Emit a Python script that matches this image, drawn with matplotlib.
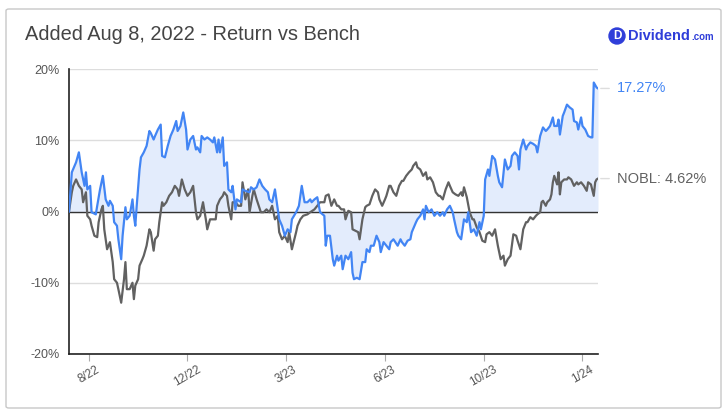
import matplotlib
matplotlib.use("Agg")
import matplotlib.pyplot as plt
from matplotlib.patches import FancyBboxPatch, Circle

plt.rcParams['font.family'] = ['Liberation Sans', 'DejaVu Sans']

# ---- data (trading-day index since Aug 8, 2022; cumulative return in %) ----
blue_days = [0, 2, 5, 7, 9, 11, 12, 13, 15, 16, 19, 20, 22, 24, 26, 28, 29, 31, 32, 34,
             35, 37, 38, 40, 41, 43, 45, 46, 47, 48, 50, 51, 53, 55, 57, 58, 60, 61, 63, 65,
             66, 68, 70, 72, 74, 76, 77, 79, 81, 83, 84, 86, 88, 90, 91, 93, 94, 96, 98, 100,
             102, 103, 105, 106, 107, 109, 110, 112, 113, 115, 116, 118, 119, 122, 123, 125, 128, 129, 131, 133,
             135, 137, 139, 141, 142, 144, 146, 147, 149, 151, 153, 155, 157, 158, 161, 163, 165, 167, 169, 171,
             172, 174, 176, 178,
             181, 182, 183, 185, 187, 188, 190, 191, 193, 194,
             196, 198, 200, 201, 202, 204, 206, 208, 210, 211,
             213, 214, 216, 218, 220, 221, 223, 225, 227, 228,
             230, 233, 235, 236, 238, 240, 242, 243, 246, 247,
             249, 251, 252, 253, 255, 257, 259, 261, 263, 265,
             266, 268, 270, 272, 273, 275, 276, 278, 280, 282,
             283, 285, 287, 289, 291, 292, 294, 295, 297, 298,
             300, 302, 304, 305, 307, 309, 311, 313, 314, 316,
             318, 319, 320, 322, 324, 325, 327, 329, 331, 332,
             334, 336, 338, 339, 341, 343, 344, 346, 347, 348,
             350, 351, 353, 355, 357, 358, 360, 361, 363, 364,
             366, 368, 370, 371, 372, 374, 375]
blue_ret = [0.0, 5.5, 6.9, 8.3, 5.5, 3.6, 5.5, 3.1, 3.6, -0.1,
            -0.4, 0.8, 3.1, 5.0, 1.7, 0.8, 1.5, 0.8, -1.5, -2.0,
            -3.9, -6.7, -3.4, 0.6, -1.1, -0.6, 1.7, -0.6, -2.0, 0.8,
            5.9, 7.6, 8.3, 9.2, 11.3, 11.0, 10.1, 10.6, 11.5, 12.2,
            7.8, 7.6, 9.2, 10.6, 11.5, 12.7, 11.3, 12.0, 13.9, 11.5,
            8.7, 10.1, 10.6, 8.7, 9.0, 8.3, 10.6, 10.1, 10.4, 10.1,
            9.7, 10.4, 8.3, 10.1, 8.3, 10.4, 6.4, 6.9, 3.1, 2.7,
            3.6, 0.3, 1.7, 1.3, 3.1, 2.9, 2.7, 3.4, 3.1, 3.4,
            4.5, 3.6, 3.1, 2.7, 1.7, 1.3, 3.1, 1.7, -1.1, -2.0,
            -3.4, -2.5, -2.9, -1.1, -0.1, 0.8, 3.6, 1.3, 1.3, 1.7,
            1.3, 1.7, 2.0, -0.1,
            -0.6, -4.8, -3.4, -3.4, -6.7, -7.6, -6.2, -6.9, -6.2, -8.1,
            -6.2, -6.7, -5.7, -8.6, -9.5, -9.3, -9.5, -7.1, -7.1, -5.3,
            -5.7, -4.8, -4.8, -3.4, -4.3, -5.7, -4.3, -4.8, -5.3, -4.3,
            -3.9, -4.8, -3.9, -4.3, -4.8, -4.1, -3.9, -2.9, -1.5, -1.1,
            -0.6, 0.3, -1.1, 0.8, -0.1, 0.3, -0.6, -0.1, -0.6, -0.1,
            -0.6, 0.3, 0.8, -0.1, -1.1, -2.9, -3.4, -3.9, -1.1, -1.5,
            -0.1, -2.9, -2.5, -3.4, -1.5, -2.5, -0.6, 4.5, 5.9, 5.0,
            7.8, 7.3, 5.0, 4.1, 3.4, 7.3, 5.9, 6.4, 7.8, 8.3,
            7.8, 5.9, 8.7, 10.1, 8.7, 9.2, 9.7, 9.5, 9.2, 8.3,
            10.6, 11.8, 11.3, 11.5, 12.0, 13.2, 12.0, 12.0, 12.9, 10.8,
            13.4, 13.9, 15.0, 14.6, 14.3, 12.7, 12.5, 11.5, 13.2, 12.0,
            11.5, 10.6, 10.4, 10.4, 18.1, 17.4, 17.27]

nobl_days = [0, 2, 3, 5, 7, 9, 10, 12, 13, 15, 16, 18, 20, 21, 23, 24, 25, 27, 29, 31,
             32, 34, 35, 37, 39, 40, 41, 43, 45, 46, 47, 49, 50, 52, 53, 55, 57, 58, 60, 61,
             63, 64, 66, 67, 69, 71, 73, 75, 77, 78, 80, 82, 84, 86, 88, 90, 91, 93, 95, 97,
             98, 100, 102, 104, 105, 107, 109, 110, 112, 113, 115, 116, 118, 120, 122, 123, 125, 127, 128, 130,
             131, 133, 136, 138, 140, 142, 144, 146, 148, 149, 151, 153, 155, 156, 158, 161, 162, 164, 166, 169,
             171, 174, 176, 178,
             181, 182, 184, 186, 188, 190, 191, 193, 195, 196,
             198, 200, 201, 203, 205, 206, 208, 210, 211, 213,
             215, 217, 219, 220, 222, 224, 225, 227, 228, 230,
             232, 234, 236, 237, 239, 241, 243, 244, 246, 247,
             249, 251, 253, 254, 256, 258, 260, 262, 263, 265,
             267, 269, 270, 272, 274, 276, 278, 279, 280, 282,
             284, 286, 287, 289, 291, 293, 295, 296, 298, 300,
             302, 304, 306, 308, 309, 311, 313, 315, 317, 318,
             320, 321, 322, 324, 325, 327, 329, 331, 332, 334,
             335, 336, 338, 339, 341, 342, 343, 344, 346, 347,
             348, 349, 351, 353, 354, 356, 358, 360, 361, 363,
             365, 367, 368, 370, 372, 373, 374, 375]
nobl_ret = [0.0, 2.7, 3.6, 4.5, 3.6, 3.1, 1.3, 2.7, -0.6, -1.1,
            -2.0, -3.4, -3.6, -1.5, 0.3, 0.8, -2.5, -5.3, -4.3, -7.1,
            -9.5, -10.0, -10.9, -12.8, -9.5, -7.1, -10.9, -10.9, -10.0, -12.3,
            -10.4, -9.5, -7.6, -6.7, -6.2, -4.8, -2.5, -2.9, -5.5, -3.9,
            -3.4, -1.5, 1.3, 0.8, 1.3, 2.2, 2.7, 3.6, 3.1, 2.2,
            4.5, 3.1, 2.2, 2.7, 3.6, -0.1, -1.1, -0.6, 1.3, -1.1,
            -2.5, -1.1, -1.1, -1.1, 0.8, 1.7, 2.2, 2.7, 2.2, 0.8,
            -1.1, 1.3, 1.3, 0.8, 0.8, 4.1, 1.7, 3.1, -0.1, 2.2,
            3.1, 1.7, -0.1, -0.1, 0.3, -0.1, 0.8, -1.1, -0.6, -2.9,
            -3.9, -3.4, -4.3, -2.9, -5.3, -2.9, -2.0, -1.1, -0.6, -0.4,
            -0.1, 0.3, 0.8, 1.3,
            1.3, 2.2, 2.4, 0.8, 1.7, 0.8, 0.8, 0.3, 0.3, -1.1,
            0.1, -0.1, -2.5, -2.7, -2.9, -3.9, -1.1, 0.6, 0.8, 1.0,
            2.2, 3.1, 2.7, 1.7, 0.8, 1.7, 2.2, 3.6, 3.6, 2.7,
            2.2, 3.6, 4.3, 4.3, 5.0, 5.5, 5.9, 6.4, 6.9, 6.2,
            5.9, 5.0, 5.5, 4.5, 4.8, 4.1, 2.7, 2.2, 2.2, 1.7,
            3.1, 4.1, 3.6, 2.7, 2.4, 2.2, 2.7, 2.2, 3.4, 2.0,
            -0.1, -1.1, -1.1, -2.2, -2.9, -4.1, -4.3, -3.2, -2.9, -3.4,
            -2.5, -4.8, -6.7, -6.2, -7.6, -6.7, -6.2, -3.2, -3.4, -4.1,
            -5.3, -3.9, -2.5, -1.5, -1.5, -0.8, -1.1, -0.6, -0.4, -0.1,
            1.3, 1.5, 0.8, 1.3, 1.7, 2.4, 4.1, 5.0, 3.8, 5.5,
            2.4, 4.1, 4.5, 4.5, 4.8, 4.5, 3.6, 4.1, 3.8, 4.1,
            3.6, 2.9, 4.1, 3.8, 2.2, 4.1, 4.5, 4.62]

tick_days = [14, 84, 154, 224, 294, 364]
tick_labels = ['8/22', '12/22', '3/23', '6/23', '10/23', '1/24']
y_ticks = [-20, -10, 0, 10, 20]

title = 'Added Aug 8, 2022 - Return vs Bench'
bench_name = 'NOBL'

# ---- styling ----
BLUE = '#4285f4'
GRAY = '#616161'
FILL = '#e3ecfc'

W, H = 727, 417
fig = plt.figure(figsize=(W / 100, H / 100), dpi=100)
fig.patch.set_facecolor('white')

# outer frame
frame = FancyBboxPatch((6 / W, 9 / H), 715 / W, 399 / H,
                       boxstyle='round,pad=0,rounding_size=0.004',
                       transform=fig.transFigure, fill=False,
                       edgecolor='#c8c8c8', linewidth=1.0)
fig.patches.append(frame)

ax_l, ax_r, ax_t, ax_b = 69, 598, 69, 354
ax = fig.add_axes([ax_l / W, 1 - ax_b / H, (ax_r - ax_l) / W, (ax_b - ax_t) / H])

ax.fill_between(blue_days, blue_ret, 0, color=FILL, linewidth=0, zorder=1)
ax.axhline(0, color='#333333', linewidth=1.0, zorder=2)
ax.plot(nobl_days, nobl_ret, color=GRAY, linewidth=1.6, zorder=3, solid_joinstyle='round')
ax.plot(blue_days, blue_ret, color=BLUE, linewidth=1.6, zorder=4, solid_joinstyle='round')

ax.set_xlim(0, blue_days[-1])
ax.set_ylim(-20, 20)
ax.set_yticks(y_ticks)
ax.set_yticklabels([f'{v}%' for v in y_ticks], color='#555555', fontsize=9)
ax.yaxis.grid(True, color='#dddddd', linewidth=1.0)
ax.set_axisbelow(True)
ax.tick_params(axis='y', length=0, pad=7)

ax.set_xticks(tick_days)
ax.set_xticklabels(tick_labels, rotation=30, ha='center', color='#555555', fontsize=8.5)
ax.tick_params(axis='x', length=5, color='#aaaaaa', pad=2)

for s in ['top', 'right']:
    ax.spines[s].set_visible(False)
ax.spines['left'].set_color('#222222')
ax.spines['bottom'].set_color('#222222')
ax.spines['left'].set_linewidth(1.2)
ax.spines['bottom'].set_linewidth(1.2)

# end labels with leader lines
for val, txt, col in [(blue_ret[-1], f'{blue_ret[-1]:.2f}%', BLUE),
                      (nobl_ret[-1], f'{bench_name}: {nobl_ret[-1]:.2f}%', GRAY)]:
    ax.annotate('', xy=(1.0, val), xycoords=('axes fraction', 'data'),
                xytext=(1.0 + 14 / (ax_r - ax_l), val), textcoords=('axes fraction', 'data'),
                arrowprops=dict(arrowstyle='-', color='#dddddd', linewidth=1.0),
                annotation_clip=False)
    ax.text(1.0 + 19 / (ax_r - ax_l), val, txt, transform=ax.get_yaxis_transform(),
            color=col, fontsize=10.5, va='center', ha='left', clip_on=False)

# title
fig.text(25 / W, 1 - 34 / H, title, fontsize=14.4, color='#444444', va='center', ha='left')

# logo
LOGO = '#2f3ed9'
cy = 1 - 36 / H
fig.patches.append(Circle((617, H - 36), 8, transform=None, color=LOGO))
fig.text(617 / W, cy, 'D', color='white', fontsize=8.5, fontweight='bold', ha='center', va='center')
fig.text(628 / W, cy, 'Dividend', color=LOGO, fontsize=10.5, fontweight='bold', ha='left', va='center')
fig.text(691 / W, 1 - 37.5 / H, '.com', color=LOGO, fontsize=7, fontweight='bold', ha='left', va='center')

fig.savefig('out.png', dpi=100, facecolor='white')
